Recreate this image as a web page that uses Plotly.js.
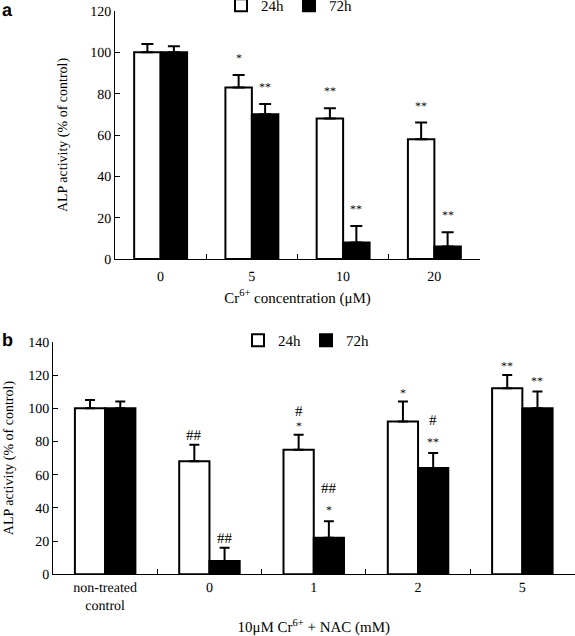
<!DOCTYPE html>
<html>
<head>
<meta charset="utf-8">
<script src="https://cdn.plot.ly/plotly-3.0.1.min.js"></script>
<style>html,body{margin:0;padding:0;background:#fff;}#chart{width:575px;height:636px;} svg text{text-rendering:geometricPrecision;}</style>
</head>
<body>
<div id="chart"></div>
<script>
// ---- Panel a data ----
const categoriesA = ['0', '5', '10', '20'];
const a24 = [100, 83, 68, 58];
const a24err = [4, 6, 5, 8];
const a72 = [100, 70, 8, 6];
const a72err = [3, 5, 8, 7];
const sigA24 = ['', '*', '**', '**'];
const sigA72 = ['', '**', '**', '**'];

// ---- Panel b data ----
const categoriesB = ['non-treated<br>control', '0', '1', '2', '5'];
const b24 = [100, 68, 75, 92, 112];
const b24err = [5, 10, 9, 12, 8];
const b72 = [100, 8, 22, 64, 100];
const b72err = [4, 8, 10, 9, 10];
const starB24 = ['', '', '*', '*', '**'];
const hashB24 = ['', '##', '#', '', ''];
const starB72 = ['', '', '*', '**', '**'];
const hashB72 = ['', '##', '##', '#', ''];

const seriesNames = ['24h', '72h'];

const SERIF = 'Liberation Serif, Times New Roman, serif';
const W = 575, H = 636;
const zeros = n => new Array(n).fill(0);

function barTrace(cats, vals, errs, name, fill, xa, ya, legend, capW) {
  return {
    type: 'bar', x: cats, y: vals, name: name, xaxis: xa, yaxis: ya, legend: legend,
    marker: {color: fill, line: {color: '#000', width: 2}},
    error_y: {type: 'data', array: errs, arrayminus: zeros(errs.length), symmetric: false,
              visible: true, color: '#000', thickness: 2, width: capW},
    hoverinfo: 'skip'
  };
}

const data = [
  barTrace(categoriesA, a24, a24err, seriesNames[0], '#fff', 'x', 'y', 'legend', 6),
  barTrace(categoriesA, a72, a72err, seriesNames[1], '#000', 'x', 'y', 'legend', 6),
  barTrace(categoriesB, b24, b24err, seriesNames[0], '#fff', 'x2', 'y2', 'legend2', 5),
  barTrace(categoriesB, b72, b72err, seriesNames[1], '#000', 'x2', 'y2', 'legend2', 5)
];

const BARGAP = 0.42;
const off = (1 - BARGAP) / 4;
const annotations = [];
function addMark(text, i, side, vals, errs, xr, yr, shift, size) {
  if (!text) return;
  annotations.push({
    xref: xr, yref: yr, x: i + side * off, y: vals[i] + errs[i],
    text: text, showarrow: false, yanchor: 'middle', xanchor: 'center',
    yshift: shift, font: {family: SERIF, size: size, color: '#000'}
  });
}
sigA24.forEach((t, i) => addMark(t, i, -1, a24, a24err, 'x', 'y', 17, 12));
sigA72.forEach((t, i) => addMark(t, i, 1, a72, a72err, 'x', 'y', 17, 12));
starB24.forEach((t, i) => addMark(t, i, -1, b24, b24err, 'x2', 'y2', 9, 12));
starB72.forEach((t, i) => addMark(t, i, 1, b72, b72err, 'x2', 'y2', 11, 12));
hashB24.forEach((t, i) => addMark(t, i, -1, b24, b24err, 'x2', 'y2', starB24[i] ? 23 : 9, 15));
hashB72.forEach((t, i) => addMark(t, i, 1, b72, b72err, 'x2', 'y2', starB72[i] ? 32 : 9, 15));

annotations.push({xref: 'paper', yref: 'paper', x: 0, y: 1 - 10 / H, xanchor: 'left', yanchor: 'middle',
  text: '<b>a</b>', showarrow: false, font: {family: 'Liberation Sans, Arial, sans-serif', size: 18, color: '#000'}});
annotations.push({xref: 'paper', yref: 'paper', x: 0, y: 1 - 340 / H, xanchor: 'left', yanchor: 'middle',
  text: '<b>b</b>', showarrow: false, font: {family: 'Liberation Sans, Arial, sans-serif', size: 18, color: '#000'}});

function xAxis(domain, anchor, title, range, labelStandoff) {
  return {
    domain: domain, anchor: anchor, type: 'category', range: range,
    showline: true, linecolor: '#000', linewidth: 1, mirror: false,
    ticks: 'inside', tickson: 'boundaries', ticklen: 5, tickcolor: '#000', tickwidth: 1,
    ticklabelstandoff: labelStandoff,
    showgrid: false, zeroline: false, fixedrange: true,
    tickfont: {family: SERIF, size: 14, color: '#000'},
    title: {text: title, font: {family: SERIF, size: 15, color: '#000'}, standoff: 8}
  };
}
function yAxis(domain, anchor, range, standoff) {
  return {
    domain: domain, anchor: anchor, range: range, dtick: 20, tick0: 0,
    showline: true, linecolor: '#000', linewidth: 1,
    ticks: 'inside', ticklen: 5, tickcolor: '#000', tickwidth: 1,
    showgrid: false, zeroline: false, fixedrange: true,
    tickfont: {family: SERIF, size: 14, color: '#000'},
    title: {text: 'ALP activity (% of control)', font: {family: SERIF, size: 14, color: '#000'}, standoff: standoff}
  };
}

const layout = {
  width: W, height: H, margin: {l: 0, r: 0, t: 0, b: 0, autoexpand: false},
  paper_bgcolor: '#fff', plot_bgcolor: '#fff',
  barmode: 'group', bargap: BARGAP, bargroupgap: 0,
  showlegend: true,
  font: {family: SERIF, color: '#000'},
  xaxis: xAxis([115 / W, 480 / W], 'y', 'Cr<sup>6+</sup> concentration (μM)', [-0.5, 3.5], 4),
  yaxis: yAxis([1 - 259 / H, 1 - 11 / H], 'x', [0, 120], 19),
  xaxis2: xAxis([53 / W, 574.5 / W], 'y2', '10μM Cr<sup>6+</sup> + NAC (mM)', [-0.5, 4.5], 0),
  yaxis2: yAxis([1 - 574.3 / H, 1 - 341.8 / H], 'x2', [0, 140], 11),
  legend: {orientation: 'h', x: 289 / W, xanchor: 'center', y: 1 + 11 / H, yanchor: 'top',
           bgcolor: 'rgba(0,0,0,0)', font: {family: SERIF, size: 15, color: '#000'}, itemwidth: 30, traceorder: 'normal'},
  legend2: {orientation: 'h', x: 306 / W, xanchor: 'center', y: 1 - 324 / H, yanchor: 'top',
           bgcolor: 'rgba(0,0,0,0)', font: {family: SERIF, size: 15, color: '#000'}, itemwidth: 30, traceorder: 'normal'},
  annotations: annotations
};

Plotly.newPlot('chart', data, layout, {displayModeBar: false, staticPlot: true});
</script>
</body>
</html>
